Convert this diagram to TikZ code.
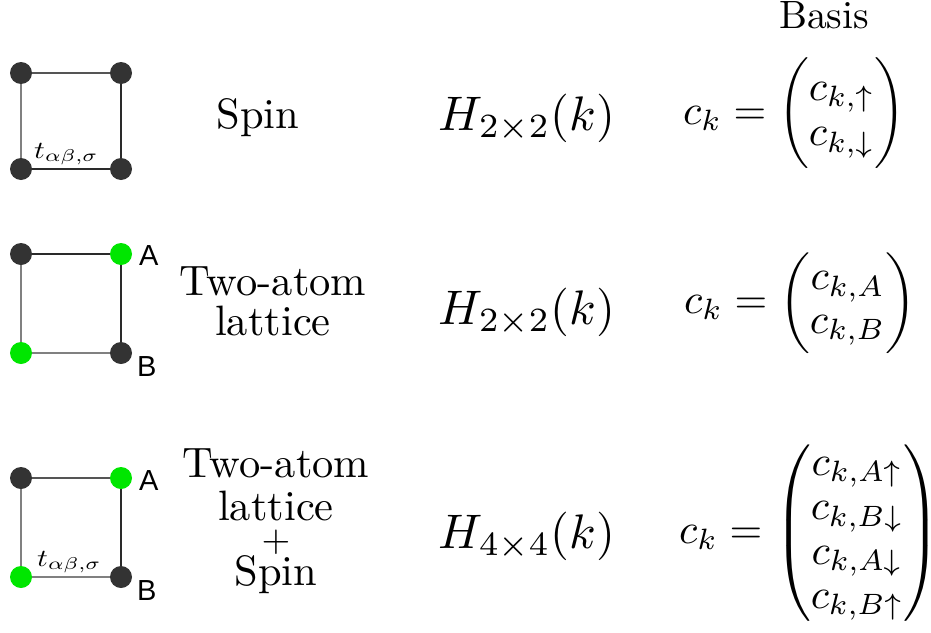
\documentclass[tikz,border=0pt]{standalone}
\usepackage{amsmath}
\usepackage{graphicx}
\usepackage{fontspec}
\newfontfamily\labelfont{Liberation Sans}
\newcommand{\lbltxt}[1]{\scalebox{4.25}{#1}}
\newcommand{\headtxt}[1]{\scalebox{3.95}{#1}}
\newcommand{\plustxt}[1]{\scalebox{3.7}{#1}}
\newcommand{\hamtxt}[1]{\scalebox{4.85}{#1}}
\newcommand{\vectxt}[2][0.87]{\scalebox{4.2}{\renewcommand{\arraystretch}{#1}#2}}
\newcommand{\hoptxt}[1]{\scalebox{3.0}[2.45]{#1}}
\newcommand{\tallopen}{\mathopen{\scalebox{1}[1.1]{$\biggl($}}}
\newcommand{\tallclose}{\mathclose{\scalebox{1}[1.1]{$\biggr)$}}}
\definecolor{dotgray}{HTML}{333333}
\definecolor{dotgreen}{HTML}{00E600}
\definecolor{edgeA}{HTML}{555555}
\definecolor{edgeB}{HTML}{808080}
\definecolor{edgeC}{HTML}{2A2A2A}
\begin{document}
\begin{tikzpicture}[x=1pt,y=-1pt,
  dot/.style={circle,inner sep=0pt,minimum size=22pt},
  darkdot/.style={dot,fill=dotgray},
  greendot/.style={dot,fill=dotgreen},
  edge/.style={line width=1.4pt},
  txt/.style={inner sep=0pt,anchor=base},
  plus/.style={inner sep=0pt},
  ham/.style={inner sep=0pt,anchor=base},
  basisvec/.style={inner sep=0pt,anchor=west},
  site/.style={inner sep=0pt,anchor=base west,font=\labelfont\fontsize{29}{34}\selectfont},
  hop/.style={inner sep=0pt,anchor=base west}]
\useasboundingbox (0,0) rectangle (931,632);

% Row 1: spin
\node[darkdot] (a1) at (21,73) {};
\node[darkdot] (b1) at (121,73) {};
\node[darkdot] (c1) at (21,169) {};
\node[darkdot] (d1) at (121,169) {};
\draw[edge,edgeA] (a1) -- (b1);
\draw[edge,edgeB] (a1) -- (c1);
\draw[edge,edgeC] (b1) -- (d1);
\draw[edge,edgeC] (c1) -- (d1);
\node[hop] (t1) at (34,158) {\hoptxt{$t_{\alpha\beta,\sigma}$}};
\node[txt] (spin1) at (258,128) {\lbltxt{Spin}};
\node[ham] (h1) at (527,130) {\hamtxt{$H_{2\times2}(k)$}};
\node[basisvec] (m1) at (683,113) {\vectxt[0.9]{$c_k = \tallopen\begin{matrix} c_{k,\uparrow}\\ c_{k,\downarrow}\end{matrix}\tallclose$}};
\node[txt] (basis) at (824,28) {\headtxt{Basis}};

% Row 2: two-atom lattice
\node[darkdot] (a2) at (21,254) {};
\node[greendot] (b2) at (121,254) {};
\node[greendot] (c2) at (21,353) {};
\node[darkdot] (d2) at (121,353) {};
\draw[edge,edgeC] (a2) -- (b2);
\draw[edge,edgeB] (a2) -- (c2);
\draw[edge,edgeC] (b2) -- (d2);
\draw[edge,edgeB] (c2) -- (d2);
\node[site] (A2) at (139,265) {A};
\node[site] (B2) at (137,376) {B};
\node[txt] (two2) at (273,295) {\lbltxt{Two-atom}};
\node[txt] (lat2) at (273,335) {\lbltxt{lattice}};
\node[ham] (h2) at (527,324) {\hamtxt{$H_{2\times2}(k)$}};
\node[basisvec] (m2) at (684,303) {\vectxt{$c_k = \begin{pmatrix} c_{k,A}\\ c_{k,B}\end{pmatrix}$}};

% Row 3: two-atom lattice + spin
\node[darkdot] (a3) at (21,478) {};
\node[greendot] (b3) at (121,478) {};
\node[greendot] (c3) at (21,577) {};
\node[darkdot] (d3) at (121,577) {};
\draw[edge,edgeA] (a3) -- (b3);
\draw[edge,edgeB] (a3) -- (c3);
\draw[edge,edgeC] (b3) -- (d3);
\draw[edge,edgeB] (c3) -- (d3);
\node[site] (A3) at (139,490) {A};
\node[site] (B3) at (137,600) {B};
\node[hop] (t3) at (37,566) {\hoptxt{$t_{\alpha\beta,\sigma}$}};
\node[txt] (two3) at (276,477) {\lbltxt{Two-atom}};
\node[txt] (lat3) at (276,520) {\lbltxt{lattice}};
\node[plus] (pl3) at (276,542) {\plustxt{$+$}};
\node[txt] (spin3) at (276,585) {\lbltxt{Spin}};
\node[ham] (h3) at (527,548) {\hamtxt{$H_{4\times4}(k)$}};
\node[basisvec] (m3) at (679,533) {\vectxt[0.88]{$c_k = \begin{pmatrix} c_{k,A\uparrow}\\ c_{k,B\downarrow}\\ c_{k,A\downarrow}\\ c_{k,B\uparrow}\end{pmatrix}$}};
\end{tikzpicture}
\end{document}
